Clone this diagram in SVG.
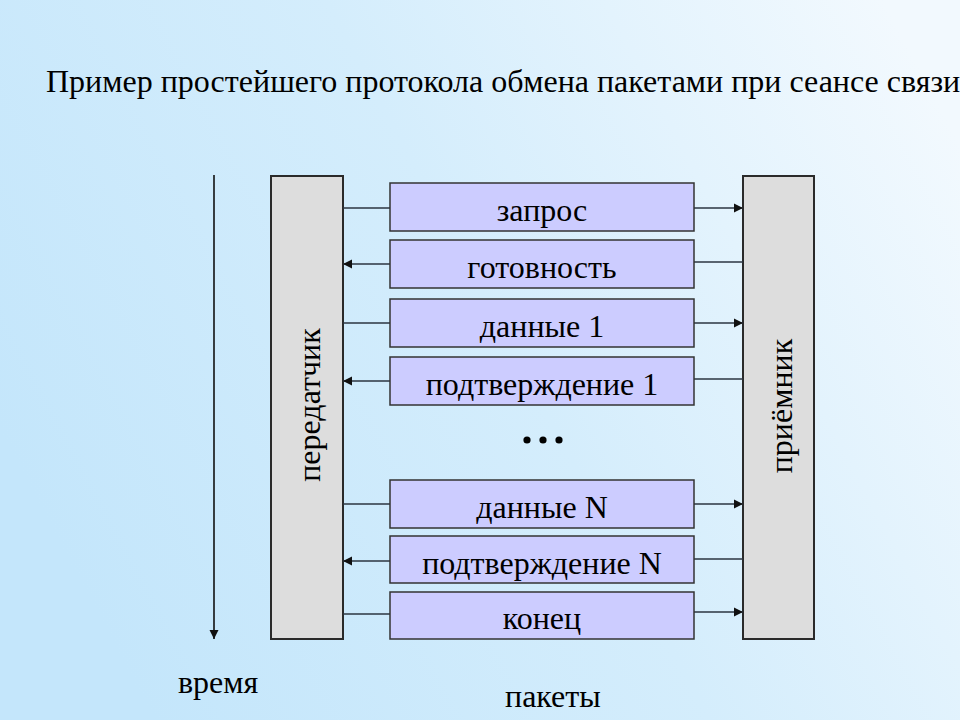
<svg xmlns="http://www.w3.org/2000/svg" width="960" height="720" viewBox="0 0 960 720">
  <defs>
    <linearGradient id="bg" x1="0" y1="0.6" x2="1" y2="0.2">
      <stop offset="0" stop-color="#c4e6fb"/>
      <stop offset="0.5" stop-color="#d4edfc"/>
      <stop offset="1" stop-color="#f2f9fe"/>
    </linearGradient>
    <marker id="ah" viewBox="0 0 10 10" refX="10" refY="5" markerWidth="9" markerHeight="10" markerUnits="userSpaceOnUse" orient="auto">
      <path d="M0,0 L10,5 L0,10 Z" fill="#111"/>
    </marker>
    <style>
      .t { font-family: "Liberation Serif", "Times New Roman", serif; font-size: 32px; fill: #000; }
      .c { text-anchor: middle; }
      .pkt { fill: #ccccff; stroke: #333; stroke-width: 1.5; }
      .side { fill: #dddddd; stroke: #2a2a2a; stroke-width: 2; }
      .ln { stroke: #2b3540; stroke-width: 1.6; fill: none; }
      .arr { marker-end: url(#ah); }
    </style>
  </defs>
  <rect x="0" y="0" width="960" height="720" fill="url(#bg)"/>

  <text class="t" x="46" y="92" font-size="31.7">Пример простейшего протокола обмена пакетами при сеансе связи</text>

  <g id="time-axis">
    <line x1="214" y1="175" x2="214" y2="639" stroke="#111" stroke-width="1.6" marker-end="url(#ah)"/>
    <text class="t" x="178" y="693">время</text>
  </g>

  <g id="transmitter">
    <rect class="side" x="271" y="176" width="72" height="463"/>
    <text class="t c" transform="translate(320,405) rotate(-90)">передатчик</text>
  </g>

  <g id="receiver">
    <rect class="side" x="743" y="176" width="71" height="463"/>
    <text class="t c" transform="translate(792,406) rotate(-90)">приёмник</text>
  </g>

  <g id="connectors">
    <line class="ln" x1="343" y1="208" x2="390" y2="208"/>
    <line class="ln arr" x1="694" y1="208" x2="743" y2="208"/>
    <line class="ln arr" x1="390" y1="264" x2="343" y2="264"/>
    <line class="ln" x1="694" y1="262" x2="743" y2="262"/>
    <line class="ln" x1="343" y1="323" x2="390" y2="323"/>
    <line class="ln arr" x1="694" y1="323" x2="743" y2="323"/>
    <line class="ln arr" x1="390" y1="381" x2="343" y2="381"/>
    <line class="ln" x1="694" y1="379" x2="743" y2="379"/>
    <line class="ln" x1="343" y1="504" x2="390" y2="504"/>
    <line class="ln arr" x1="694" y1="504" x2="743" y2="504"/>
    <line class="ln arr" x1="390" y1="561" x2="343" y2="561"/>
    <line class="ln" x1="694" y1="559" x2="743" y2="559"/>
    <line class="ln" x1="343" y1="614" x2="390" y2="614"/>
    <line class="ln arr" x1="694" y1="612" x2="743" y2="612"/>
  </g>

  <g id="pkt-request">
    <rect class="pkt" x="390" y="183" width="304" height="48"/>
    <text class="t c" x="542" y="221">запрос</text>
  </g>
  <g id="pkt-ready">
    <rect class="pkt" x="390" y="240" width="304" height="48"/>
    <text class="t c" x="542" y="278">готовность</text>
  </g>
  <g id="pkt-data1">
    <rect class="pkt" x="390" y="299" width="304" height="48"/>
    <text class="t c" x="542" y="337">данные 1</text>
  </g>
  <g id="pkt-ack1">
    <rect class="pkt" x="390" y="357" width="304" height="48"/>
    <text class="t c" x="542" y="395">подтверждение 1</text>
  </g>
  <g id="ellipsis">
    <circle cx="527" cy="440" r="3.6" fill="#000"/>
    <circle cx="543" cy="440" r="3.6" fill="#000"/>
    <circle cx="559" cy="440" r="3.6" fill="#000"/>
  </g>
  <g id="pkt-dataN">
    <rect class="pkt" x="390" y="480" width="304" height="48"/>
    <text class="t c" x="542" y="518">данные N</text>
  </g>
  <g id="pkt-ackN">
    <rect class="pkt" x="390" y="536" width="304" height="47"/>
    <text class="t c" x="542" y="574">подтверждение N</text>
  </g>
  <g id="pkt-end">
    <rect class="pkt" x="390" y="592" width="304" height="47"/>
    <text class="t c" x="542" y="629">конец</text>
  </g>

  <text class="t" x="505" y="707">пакеты</text>
</svg>
